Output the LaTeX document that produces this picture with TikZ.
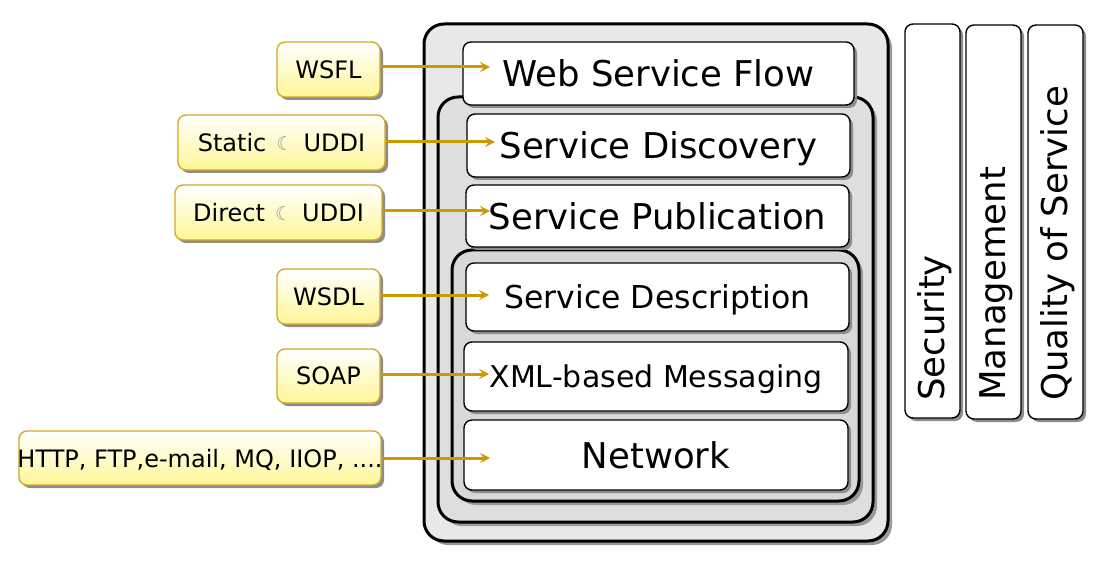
\documentclass[tikz,border=0pt]{standalone}
\usepackage{fontspec}
\setmainfont{DejaVu Sans}
\usetikzlibrary{arrows.meta,shadows}
\definecolor{gold}{RGB}{204,153,0}
\definecolor{yborder}{RGB}{212,168,40}
\definecolor{ybottom}{RGB}{255,246,150}
\definecolor{gA}{RGB}{232,232,232}
\definecolor{gB}{RGB}{222,222,222}
\definecolor{gC}{RGB}{216,216,216}
\tikzset{
  shad/.style={drop shadow={shadow xshift=3pt,shadow yshift=-3pt,fill=black!45,opacity=1}},
  bigshad/.style={drop shadow={shadow xshift=4pt,shadow yshift=-4pt,fill=black!40,opacity=1}},
  layer/.style={draw=black,line width=3pt,rounded corners=20pt,inner sep=0pt,bigshad},
  wbox/.style={draw=black,line width=1.4pt,fill=white,rounded corners=8pt,inner sep=0pt,text depth=0pt,shad,font=\fontsize{35.5}{40}\selectfont},
  colbox/.style={draw=black,line width=1.4pt,fill=white,rounded corners=8pt,inner sep=0pt,shad},
  coltext/.style={rotate=90,anchor=west,inner sep=0pt,font=\fontsize{35.5}{40}\selectfont},
  ybox/.style={draw=yborder,line width=1.4pt,top color=white,bottom color=ybottom,rounded corners=8pt,inner sep=0pt,text depth=0pt,shad,font=\fontsize{24}{28}\selectfont},
  feed/.style={draw=gold,line width=3pt,-{Stealth[length=10pt,width=10pt,inset=4pt]}}
}
\newcommand{\mn}{\hspace{0.42em}\raisebox{1pt}{\fontsize{19}{20}\selectfont\textcolor{black!40}{☾}}\hspace{0.42em}}
\begin{document}
\begin{tikzpicture}[x=1pt,y=-1pt]
\useasboundingbox (0,0) rectangle (1114,564);
% layered stack
\node[layer,fill=gA,minimum width=464,minimum height=517] (outer) at (656,282.5) {};
\node[layer,fill=gB,minimum width=435,minimum height=425] (mid) at (655.5,309.5) {};
\node[layer,fill=gC,minimum width=407,minimum height=251] (inner) at (655.5,375.5) {};
% white layers
\node[wbox,minimum width=391,minimum height=63] (wsf) at (658.5,73.5) {Web Service Flow};
\node[wbox,minimum width=383,minimum height=63] (sdis) at (658.5,145.5) {Service Discovery};
\node[wbox,minimum width=383,minimum height=62] (spub) at (657.5,216) {Service Publication};
\node[wbox,minimum width=383,minimum height=68,font=\fontsize{31.5}{36}\selectfont] (sdes) at (657.5,297) {Service Description};
\node[wbox,minimum width=384,minimum height=69,font=\fontsize{30}{34}\selectfont] (xml) at (656,376.5) {XML-based Messaging};
\node[wbox,minimum width=384,minimum height=70] (net) at (656,455) {Network};
% vertical columns
\node[colbox,minimum width=55,minimum height=394] (sec) at (932.5,221) {};
\node[colbox,minimum width=55,minimum height=394] (man) at (993.5,222) {};
\node[colbox,minimum width=55,minimum height=394] (qos) at (1055.5,222) {};
\node[coltext] (sect) at (935,401) {Security};
\node[coltext] (mant) at (996,401) {Management};
\node[coltext] (qost) at (1058,401) {Quality of Service};
% yellow boxes
\node[ybox,minimum width=103,minimum height=55] (wsfl) at (328.5,69.5) {WSFL};
\node[ybox,minimum width=207,minimum height=55] (stat) at (281.5,142.5) {Static\mn UDDI};
\node[ybox,minimum width=207,minimum height=55] (dir) at (278.5,212.5) {Direct\mn UDDI};
\node[ybox,minimum width=103,minimum height=55] (wsdl) at (328.5,296.5) {WSDL};
\node[ybox,minimum width=103,minimum height=54] (soap) at (328.5,376) {SOAP};
\node[ybox,minimum width=362,minimum height=54] (http) at (200,458) {\makebox[358pt][c]{HTTP, FTP,e-mail, MQ, IIOP, ....}};
% arrow tips
\coordinate (t1) at (490,67);
\coordinate (t2) at (495,142);
\coordinate (t3) at (490,211);
\coordinate (t4) at (489,295);
\coordinate (t5) at (489,374);
\coordinate (t6) at (490,458);
\draw[feed] (wsfl.east |- t1) -- (t1);
\draw[feed] (stat.east |- t2) -- (t2);
\draw[feed] (dir.east |- t3) -- (t3);
\draw[feed] (wsdl.east |- t4) -- (t4);
\draw[feed] (soap.east |- t5) -- (t5);
\draw[feed] (http.east |- t6) -- (t6);
\end{tikzpicture}
\end{document}
